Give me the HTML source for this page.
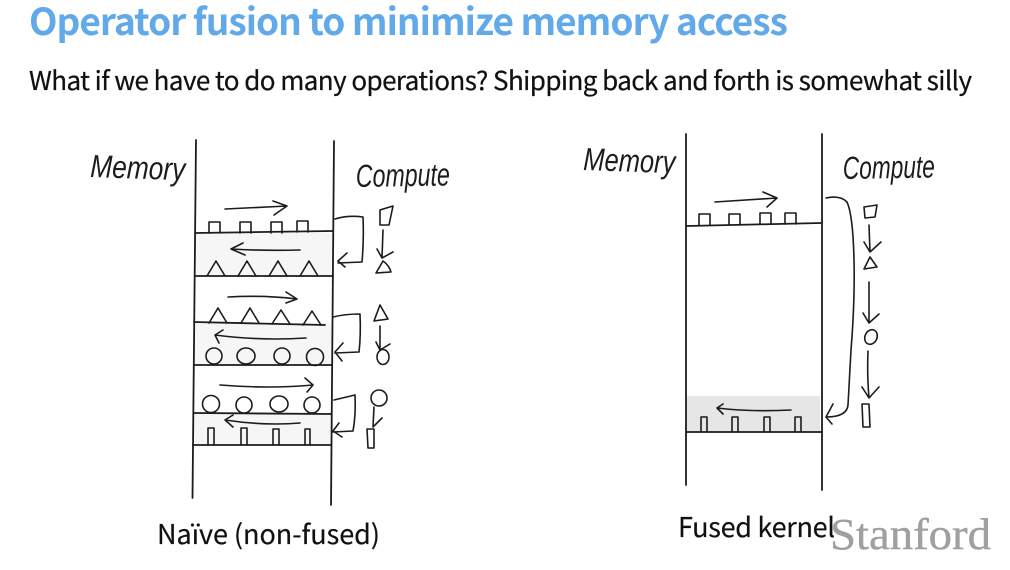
<!DOCTYPE html>
<html><head><meta charset="utf-8"><style>
html,body{margin:0;padding:0;background:#fff;width:1010px;height:570px;overflow:hidden}
svg{display:block;filter:blur(.3px)}
.s{fill:none;stroke:#1c1c1c;stroke-width:1.6;stroke-linecap:round;stroke-linejoin:round}
.b{fill:none;stroke:#1c1c1c;stroke-width:1.8;stroke-linecap:round}
.h{font-family:"Liberation Sans",sans-serif;font-weight:400;fill:#1c1c1c;font-style:italic}
</style></head><body>
<svg width="1010" height="570" viewBox="0 0 1010 570" xmlns="http://www.w3.org/2000/svg">
<rect x="195" y="233" width="138" height="43" fill="#f6f6f6"/>
<rect x="194" y="323" width="138" height="42" fill="#f6f6f6"/>
<rect x="194" y="413" width="137" height="32" fill="#f6f6f6"/>
<rect x="687" y="396" width="133" height="36" fill="#e6e6e6"/>

<text x="29" y="35" textLength="759" lengthAdjust="spacing" font-size="37" font-weight="700" fill="#62a9ea" style="font-family:'Noto Sans CJK SC','Liberation Sans',sans-serif">Operator fusion to minimize memory access</text>
<text x="29" y="90" textLength="943" lengthAdjust="spacing" font-size="26" fill="#111" stroke="#111" stroke-width=".25" style="font-family:'Noto Sans CJK SC','Liberation Sans',sans-serif">What if we have to do many operations? Shipping back and forth is somewhat silly</text>

<!-- left -->
<g class="b">
<path d="M196 140L192.5 498M334 141L331 505"/>
<path d="M195 233L333 231M195 276L333 276M194 322L325 325M194 365L332 365M194 413L331 414M193 445L331 445"/>
</g>
<g class="s">
<path d="M209 233V222H220V233M240 233V222H251V233M271 233V222H282V233M297 232V221H308V232"/>
<path d="M225 209L287 206M273 201L287 206L274 215"/>
<path d="M300 250Q265 251 231 249M243 243L231 249L245 255"/>
<path d="M207 276L216 261L225 276M238 276L247 261L256 276M269 276L278 261L287 276M300 276L309 261L318 276"/>
<path d="M228 297Q265 295 297 299M286 292L297 299L286 303"/>
<path d="M209 323L218 308L227 323M241 323L250 308L259 323M272 324L281 310L290 324M303 325L312 311L321 325"/>
<path d="M306 338Q260 341 215 335M223 330L215 335L219 343"/>
<circle cx="214" cy="356" r="8"/><ellipse cx="246" cy="356" rx="9" ry="8"/><circle cx="282" cy="356" r="8"/><circle cx="315" cy="357" r="8.5"/>
<path d="M220 385Q270 389 313 385M305 378L313 385L307 392"/>
<circle cx="211" cy="404" r="8.5"/><circle cx="244" cy="405" r="8"/><ellipse cx="279" cy="404" rx="9" ry="8"/><circle cx="312" cy="405" r="8"/>
<path d="M300 423Q265 426 225 420M233 415L225 420L233 427"/>
<path d="M208 445V428H214V445M241 445V428H247V445M273 445V429H279V445M305 445V429H310V445"/>
<path d="M335 219Q348 215 363 217Q364 240 362 262L338 263M347 253L338 261L345 267"/>
<path d="M333 317Q345 314 360 314Q361 335 359 352L335 353M343 343L335 352L342 361"/>
<path d="M334 400L355 395Q356 415 353 431L333 432M339 423L333 431L342 437"/>
<path d="M380 210L393 206L389 225H380Z"/>
<path d="M383 230L382 258M377 249L382 258L393 252"/>
<path d="M383 261L376 273L391 272Q389 265 383 261Z"/>
<path d="M380 305L374 321L388 319Z"/>
<path d="M380 326V350M376 342L380 350L390 344"/>
<ellipse cx="383" cy="357" rx="6" ry="7.5"/>
<circle cx="379" cy="398" r="8"/>
<path d="M374 407L373 427L382 418"/>
<path d="M367 429H374V448H368Z"/>
</g>

<!-- right -->
<g class="b">
<path d="M686 134V485M822 134V490"/>
<path d="M687 226L821 223M686 432H822"/>
</g>
<g class="s">
<path d="M699 225V214H710V225M729 225V214H740V225M760 224V213H771V224M785 224V213H796V224"/>
<path d="M715 202L777 198M763 192L777 198L767 207"/>
<path d="M826 198Q840 195 847 202Q853 215 854 260Q855 300 851 350L848 405Q847 417 826 417M833 404L826 417L832 424"/>
<path d="M791 410Q750 412 717 408M723 404L717 408L723 414"/>
<path d="M701 432V417H707V432M732 432V417H738V432M764 432V417H770V432M795 432V417H801V432"/>
<path d="M864 207L877 205L875 217L865 218Z"/>
<path d="M869 225L870 252M864 242L870 252L881 242"/>
<path d="M870 257L864 269L877 267Z"/>
<path d="M869 282V323M863 313L869 323L879 314"/>
<ellipse cx="871" cy="337" rx="6" ry="7.5" transform="rotate(25 871 337)"/>
<path d="M868 351Q867 375 869 398M862 387L869 398L879 387"/>
<path d="M862 404L869 404L870 427L863 427Z"/>
</g>

<!-- handwritten labels -->
<text class="h" x="90" y="177" font-size="32" textLength="95" lengthAdjust="spacingAndGlyphs" transform="rotate(2 90 177)">Memory</text>
<text class="h" x="356" y="187" font-size="32" textLength="94" lengthAdjust="spacingAndGlyphs" transform="rotate(-1 356 187)">Compute</text>
<text class="h" x="583" y="170" font-size="32" textLength="92" lengthAdjust="spacingAndGlyphs" transform="rotate(2 583 170)">Memory</text>
<text class="h" x="843" y="179" font-size="32" textLength="92" lengthAdjust="spacingAndGlyphs" transform="rotate(-1 843 179)">Compute</text>

<text x="157" y="544" textLength="223" lengthAdjust="spacing" font-size="27" fill="#111" stroke="#111" stroke-width=".2" style="font-family:'Noto Sans CJK SC','Liberation Sans',sans-serif">Naïve (non-fused)</text>
<text x="678" y="537" textLength="157" lengthAdjust="spacing" font-size="27" fill="#111" stroke="#111" stroke-width=".2" style="font-family:'Noto Sans CJK SC','Liberation Sans',sans-serif">Fused kernel</text>
<text x="830" y="549" textLength="161" lengthAdjust="spacingAndGlyphs" font-size="44" fill="#a0a09e" stroke="#a0a09e" stroke-width=".4" style="font-family:'Liberation Serif',serif">Stanford</text>
</svg>
</body></html>
